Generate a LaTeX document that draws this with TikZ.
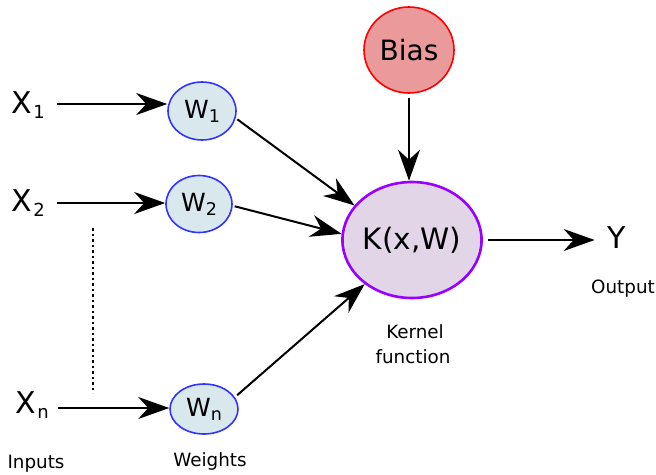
\documentclass[tikz,border=0pt]{standalone}
\usepackage{fontspec}
\setmainfont{DejaVu Sans}
\usetikzlibrary{arrows.meta,shapes.geometric}
\definecolor{wfill}{RGB}{216,232,236}
\definecolor{wdraw}{RGB}{51,51,255}
\definecolor{bfill}{RGB}{234,154,154}
\definecolor{bdraw}{RGB}{255,0,0}
\definecolor{kfill}{RGB}{225,213,231}
\definecolor{kdraw}{RGB}{153,0,255}
\newcommand{\bigf}{\fontsize{28}{30}\selectfont}
\newcommand{\xf}{\fontsize{30}{32}\selectfont}
\newcommand{\kf}{\fontsize{29.5}{31}\selectfont}
\newcommand{\wf}{\fontsize{25}{27}\selectfont}
\newcommand{\smallf}{\fontsize{18.3}{24}\selectfont}
\newcommand{\subsc}[1]{\kern1.5pt\raisebox{-5pt}{\fontsize{18}{18}\selectfont #1}}
\newcommand{\wsub}[1]{\raisebox{-4pt}{\fontsize{17.5}{18}\selectfont #1}}
\begin{document}
\begin{tikzpicture}[x=1pt,y=-1pt,
  arr/.style={line width=2pt,-{Stealth[length=31pt,width=22pt,inset=10pt]}},
  wnode/.style={ellipse,draw=wdraw,fill=wfill,line width=1.6pt,inner sep=0pt,font=\wf},
  lbl/.style={inner sep=0pt,font=\smallf},
  xlbl/.style={inner sep=0pt,anchor=base west,font=\xf}]
\useasboundingbox (0,0) rectangle (656,474);
% inputs
\node[xlbl] (X1) at (11,113) {X\subsc{1}};
\node[xlbl] (X2) at (11,211) {X\subsc{2}};
\node[xlbl] (Xn) at (15,413) {X\subsc{n}};
\coordinate (a1) at (57,104);
\coordinate (a2) at (57,203);
\coordinate (an) at (58,408);
% weights
\node[wnode,minimum width=68pt,minimum height=58pt] (W1) at (202,111) {W\wsub{1}};
\node[wnode,minimum width=66pt,minimum height=57pt] (W2) at (199,204) {W\wsub{2}};
\node[wnode,minimum width=68pt,minimum height=50pt] (Wn) at (204,409) {W\wsub{n}};
% bias and kernel
\node[ellipse,draw=bdraw,fill=bfill,line width=1.6pt,inner sep=0pt,minimum width=90pt,minimum height=86pt,font=\bigf] (B) at (409,50) {Bias};
\node[ellipse,draw=kdraw,fill=kfill,line width=2.6pt,inner sep=0pt,minimum width=132pt,minimum height=116pt,font=\kf] (K) at (412,240) {K(x,W)};
\node[inner sep=0pt,font=\xf] (Y) at (617,238) {Y};
% labels
\node[lbl,anchor=base] (Lin) at (36,468) {Inputs};
\node[lbl,anchor=base] (Lw) at (210,466) {Weights};
\node[lbl,anchor=base] (Lout) at (623,293) {Output};
\node[lbl,anchor=base] (Lk1) at (415,338) {Kernel};
\node[lbl,anchor=base] (Lk2) at (413,363) {function};
% connectors
\draw[arr] (a1) -- (a1 -| W1.west);
\draw[arr] (a2) -- (a2 -| W2.west);
\draw[arr] (an) -- (an -| Wn.west);
\draw[line width=2.5pt,dash pattern=on 2.5pt off 3pt] (93,228) -- (93,393);
\draw[arr,shorten <=2pt] (W1.-12) -- (K.149);
\draw[arr,shorten <=2pt] (W2.-3) -- (K.175);
\draw[arr,shorten <=3pt] (Wn.21) -- (K.223);
\draw[arr] ([yshift=-4pt]B.south) -- (B.south |- K.north);
\draw[arr] ([xshift=5pt]K.east) -- ([xshift=-13pt]Y.west |- K.east);
\end{tikzpicture}
\end{document}
